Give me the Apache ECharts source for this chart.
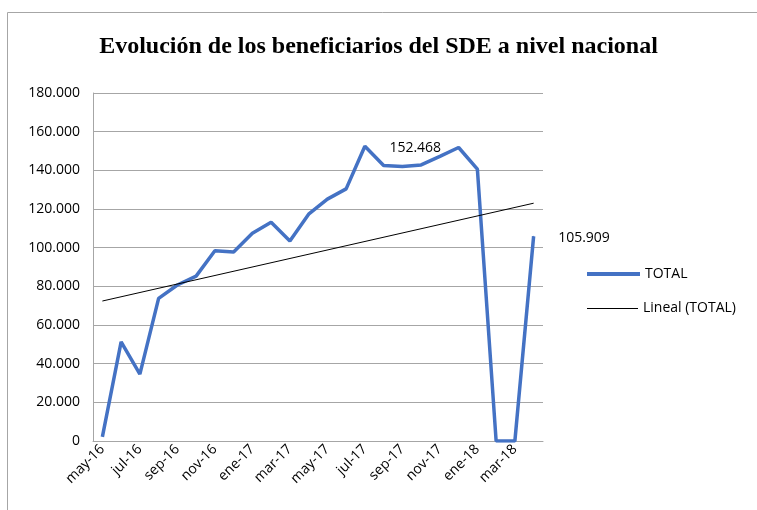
<!DOCTYPE html>
<html lang="es">
<head>
    <meta charset="UTF-8">
    <title>Beneficiarios SDE</title>
    <style type="text/css">
        html, body {
            margin: 0;
            padding: 0;
            background: #ffffff;
        }
        #main {
            width: 757px;
            height: 510px;
        }
    </style>
</head>
<body>
<div id="main"></div>
<script src="https://cdn.jsdelivr.net/npm/echarts@6/dist/echarts.min.js"></script>
<script type="text/javascript">
    // meses may-16 .. abr-18
    var meses = ['may-16','jun-16','jul-16','ago-16','sep-16','oct-16','nov-16','dic-16',
        'ene-17','feb-17','mar-17','abr-17','may-17','jun-17','jul-17','ago-17',
        'sep-17','oct-17','nov-17','dic-17','ene-18','feb-18','mar-18','abr-18'];
    var total = [2100, 51300, 34600, 73800, 80700, 85300, 98400, 97800,
        107400, 113100, 103500, 117300, 125100, 130400, 152468, 142500,
        142000, 142800, 147200, 151800, 140600, 0, 0, 105909];
    // extremos de la tendencia lineal
    var tendencia = [72400, 123000];
    var etiquetas = [14, 23];

    function miles(v) {
        return String(v).replace(/\B(?=(\d{3})+(?!\d))/g, '.');
    }

    var totalData = total.map(function (v, i) {
        if (etiquetas.indexOf(i) >= 0) {
            return {value: v, symbol: 'circle', symbolSize: 1, label: {show: true}};
        }
        return v;
    });
    var tendData = meses.map(function (m, i) {
        if (i === 0) return tendencia[0];
        if (i === meses.length - 1) return tendencia[1];
        return null;
    });

    var font = 'Open Sans';
    var chart = echarts.init(document.getElementById('main'));
    chart.setOption({
        animation: false,
        title: {
            text: 'Evolución de los beneficiarios del SDE a nivel nacional',
            left: 'center',
            top: 30,
            textStyle: {
                fontFamily: 'Liberation Serif',
                fontWeight: 'bold',
                fontSize: 24,
                color: '#000'
            }
        },
        graphic: [{
            type: 'rect',
            shape: {x: 7.5, y: 12.5, width: 800, height: 600},
            style: {fill: null, stroke: '#a6a6a6', lineWidth: 1}
        }],
        legend: [{
            left: 582,
            top: 262,
            icon: 'rect',
            itemWidth: 53,
            itemHeight: 4,
            textStyle: {fontFamily: font, fontSize: 14, color: '#000'},
            data: ['TOTAL']
        }, {
            left: 582,
            top: 296.5,
            icon: 'rect',
            itemWidth: 51,
            itemHeight: 1,
            textStyle: {fontFamily: font, fontSize: 14, color: '#000'},
            data: ['Lineal (TOTAL)']
        }],
        grid: {
            left: 93,
            right: 214,
            top: 93,
            bottom: 69
        },
        xAxis: {
            type: 'category',
            data: meses,
            boundaryGap: true,
            axisLine: {lineStyle: {color: '#a6a6a6'}},
            axisTick: {show: false},
            axisLabel: {
                interval: 1,
                rotate: 45,
                fontFamily: font,
                fontSize: 14,
                color: '#000',
                margin: 6
            }
        },
        yAxis: {
            type: 'value',
            min: 0,
            max: 180000,
            interval: 20000,
            axisLine: {show: true, lineStyle: {color: '#a6a6a6'}},
            axisTick: {show: false},
            splitLine: {lineStyle: {color: '#a6a6a6'}},
            axisLabel: {
                fontFamily: font,
                fontSize: 14,
                color: '#000',
                margin: 13,
                formatter: miles
            }
        },
        series: [{
            name: 'TOTAL',
            type: 'line',
            data: totalData,
            symbol: 'none',
            lineStyle: {color: '#4472c4', width: 3.5},
            itemStyle: {color: '#4472c4'},
            label: {
                show: false,
                position: 'right',
                distance: 24,
                offset: [0, 2],
                fontFamily: font,
                fontSize: 14,
                color: '#000',
                formatter: function (p) { return miles(p.value); }
            }
        }, {
            name: 'Lineal (TOTAL)',
            type: 'line',
            data: tendData,
            connectNulls: true,
            symbol: 'none',
            lineStyle: {color: '#000', width: 1},
            itemStyle: {color: '#000'}
        }]
    });
</script>
</body>
</html>
